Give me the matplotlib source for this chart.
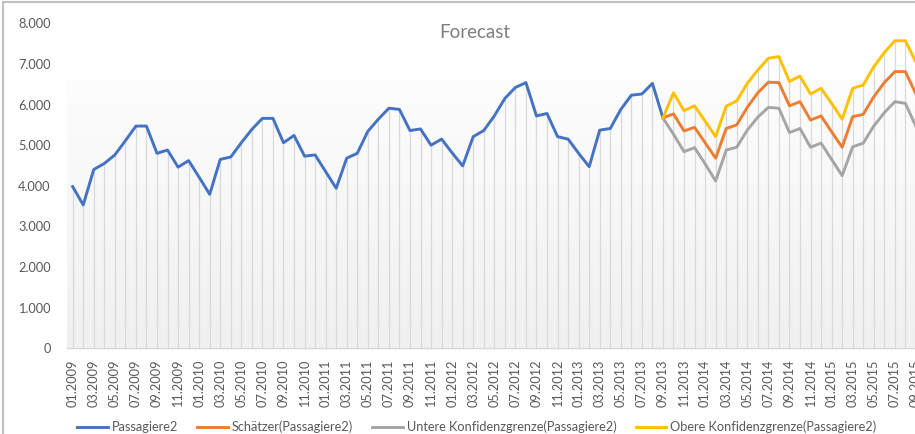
import numpy as np
import matplotlib
matplotlib.use("Agg")
import matplotlib.pyplot as plt
from matplotlib.lines import Line2D
from matplotlib.patches import Rectangle
from matplotlib.colors import LinearSegmentedColormap
from matplotlib.ticker import FuncFormatter

plt.rcParams['font.family'] = ['Lato', 'DejaVu Sans']

# ---- data ----
months = [f"{m:02d}.{y}" for y in range(2009, 2016) for m in range(1, 13)][:81]

passagiere = [3980, 3530, 4400, 4550, 4760, 5110, 5470, 5470, 4800, 4880,
              4460, 4620, 4210, 3790, 4650, 4710, 5060, 5390, 5660, 5660,
              5060, 5240, 4730, 4760, 4350, 3940, 4680, 4800, 5340, 5640,
              5910, 5880, 5360, 5400, 5000, 5150, 4810, 4490, 5210, 5360,
              5720, 6150, 6420, 6540, 5720, 5780, 5210, 5150, 4800, 4470,
              5370, 5410, 5880, 6230, 6260, 6520, 5670]

forecast_start = 56
schaetzer = [5670, 5770, 5350, 5440, 5060, 4680, 5410, 5500, 5930, 6290,
             6550, 6540, 5970, 6070, 5620, 5720, 5330, 4950, 5700, 5760,
             6190, 6540, 6810, 6810, 6260]
obere = [5670, 6290, 5850, 5970, 5590, 5210, 5960, 6090, 6520, 6850,
         7140, 7180, 6570, 6700, 6260, 6400, 6030, 5640, 6400, 6480,
         6930, 7280, 7570, 7570, 7040]
untere = [5670, 5270, 4840, 4940, 4540, 4120, 4880, 4950, 5370, 5690,
          5930, 5910, 5310, 5410, 4950, 5050, 4650, 4250, 4960, 5050,
          5470, 5800, 6070, 6030, 5460]

series_labels = ["Passagiere2", "Schätzer(Passagiere2)",
                 "Untere Konfidenzgrenze(Passagiere2)",
                 "Obere Konfidenzgrenze(Passagiere2)"]
colors = ["#4472C4", "#ED7D31", "#A5A5A5", "#FFC000"]
title = "Forecast"

# ---- figure ----
W, H = 915, 434
fig = plt.figure(figsize=(W / 100, H / 100), dpi=100)
fig.patch.set_facecolor("white")

left_px, right_px = 67.4, 921.2
bottom_px, top_px = 348.3, 23.3
ax = fig.add_axes([left_px / W, 1 - bottom_px / H,
                   (right_px - left_px) / W, (bottom_px - top_px) / H])
ax.set_facecolor("white")

n = len(months)
x_all = np.arange(n)
x_hist = np.arange(len(passagiere))
x_fc = np.arange(forecast_start, forecast_start + len(schaetzer))

# gradient background
grad_cmap = LinearSegmentedColormap.from_list("g", ["#fdfdfd", "#f0f0f0"])
grad = np.linspace(0, 1, 256).reshape(-1, 1)
ax.imshow(grad, extent=[-0.5, n - 0.5, 0, 6600], aspect='auto',
          cmap=grad_cmap, zorder=0, origin='upper')

# drop lines
top_vals = np.zeros(n)
top_vals[x_hist] = passagiere
top_vals[x_fc] = np.maximum(top_vals[x_fc], obere)
ax.vlines(x_all, 0, top_vals, colors="#d9d9d9", linewidth=0.9, zorder=1)

lw = 2.1
ax.plot(x_hist, passagiere, color=colors[0], lw=lw, zorder=3,
        solid_joinstyle='round')
ax.plot(x_fc, schaetzer, color=colors[1], lw=lw, zorder=3,
        solid_joinstyle='round')
ax.plot(x_fc, untere, color=colors[2], lw=lw, zorder=3,
        solid_joinstyle='round')
ax.plot(x_fc, obere, color=colors[3], lw=lw, zorder=3,
        solid_joinstyle='round')

ax.set_xlim(-0.5, n - 0.5)
ax.set_ylim(0, 8000)
ax.set_yticks(np.arange(0, 8001, 1000))
ax.yaxis.set_major_formatter(FuncFormatter(lambda v, p: f"{int(v):,}".replace(",", ".")))
ax.set_xticks(x_all[::2])
ax.set_xticklabels(months[::2], rotation=90)

for s in ["top", "right", "left"]:
    ax.spines[s].set_visible(False)
ax.spines["bottom"].set_color("#d9d9d9")
ax.spines["bottom"].set_linewidth(1.0)
ax.tick_params(axis='both', length=0, colors="#595959", labelsize=9.2)
ax.tick_params(axis='y', pad=12)
ax.tick_params(axis='x', pad=8)

# title
fig.text(475 / W, 1 - 32 / H, title, ha='center', va='center',
         fontsize=13.5, color="#7f7f7f")

# chart border
fig.patches.append(Rectangle((3 / W, -0.1), 1.2, 1.1 - 2 / H,
                             transform=fig.transFigure, fill=False,
                             edgecolor="#bfbfbf", lw=1.5, zorder=-1))

# legend
handles = [Line2D([], [], color=c, lw=lw) for c in colors]
fig.legend(handles, series_labels, loc='center',
           bbox_to_anchor=(477 / W, 1 - 427 / H), ncol=4, frameon=False,
           fontsize=9.2, labelcolor="#595959", handlelength=2.4,
           handletextpad=0.3, columnspacing=1.5, borderpad=0)

fig.savefig("out.png", dpi=100, facecolor="white")
